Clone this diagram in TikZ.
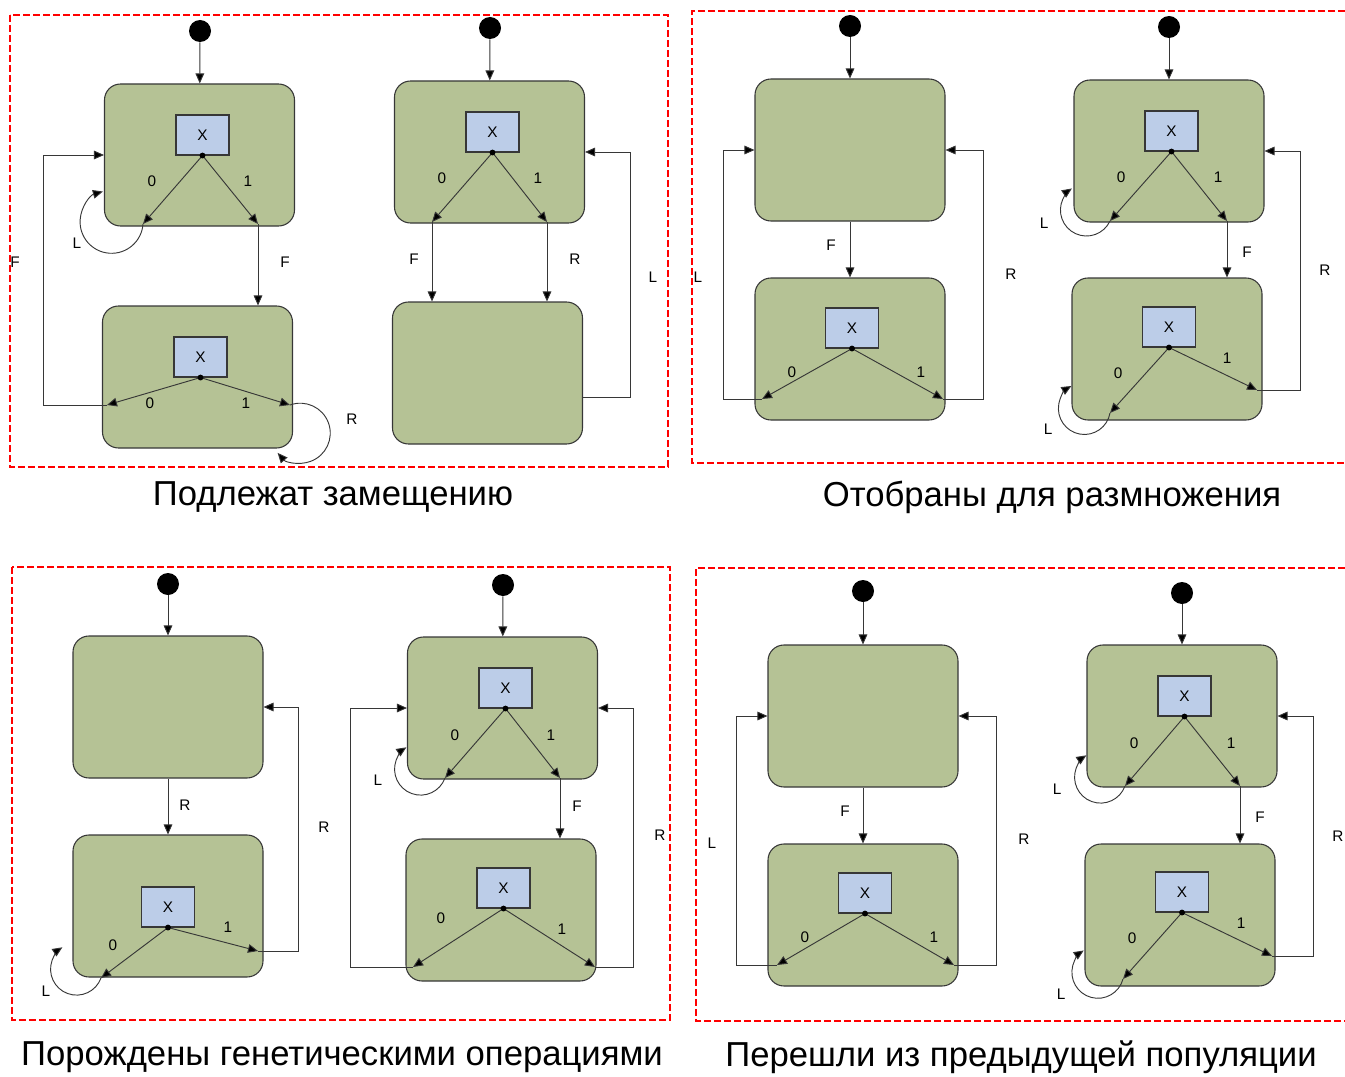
\documentclass[tikz,border=0pt]{standalone}
\usepackage{fontspec}
\setmainfont{Liberation Sans}
\usetikzlibrary{arrows.meta}
\definecolor{stategreen}{RGB}{181,194,149}
\definecolor{xblue}{RGB}{188,205,232}
\definecolor{lineg}{RGB}{55,55,55}
\begin{document}
\begin{tikzpicture}[x=0.75pt,y=-0.75pt,
  stbox/.style={draw=lineg,fill=stategreen,rounded corners=12pt,minimum width=142.5pt,minimum height=106.5pt,line width=0.8pt,inner sep=0pt},
  xbox/.style={draw=lineg,fill=xblue,minimum width=39.75pt,minimum height=30pt,line width=0.8pt,inner sep=0pt,font=\fontsize{11.5}{13}\selectfont},
  initdot/.style={circle,fill=black,minimum size=16.5pt,inner sep=0pt},
  tr/.style={draw=lineg,line width=0.7pt,-{Triangle[length=7.5pt,width=6.5pt,fill=black]}},
  lbl/.style={font=\fontsize{11.5}{13}\selectfont,inner sep=0pt},
  panel/.style={draw=red,line width=1pt,dash pattern=on 5pt off 2.5pt},
  caption/.style={font=\fontsize{26}{30}\selectfont,inner sep=0pt}]
\useasboundingbox (0,0) rectangle (1345,1077);
\draw[panel] (10,15) rectangle (668,467);
\draw[panel] (1345,11) -- (692,11) -- (692,463) -- (1345,463);
\draw[panel] (12,567) rectangle (670,1020);
\draw[panel] (1345,568) -- (696,568) -- (696,1021) -- (1345,1021);
\node[caption] (cap1) at (333,497) {Подлежат замещению};
\node[caption] (cap2) at (1052,497) {Отобраны для размножения};
\node[caption] (cap3) at (342,1057) {Порождены генетическими операциями};
\node[caption] (cap4) at (1021,1057) {Перешли из предыдущей популяции};

\node[initdot] (ia) at (200,31) {};
\node[stbox] (a1) at (199.5,155) {};
\node[stbox] (a2) at (197.5,377) {};
\node[xbox] (xa1) at (202.5,135) {X};
\node[xbox] (xa2) at (200.5,357) {X};
\coordinate (a1l) at (143,224);
\coordinate (a1r) at (258,224);
\coordinate (a2l) at (107,405);
\coordinate (a2r) at (290,405);
\draw[tr] (ia) -- (a1);
\draw[tr] (xa1.south) -- (a1l);
\draw[tr] (xa1.south) -- (a1r);
\draw[tr] (xa2.south) -- (a2l);
\draw[tr] (xa2.south) -- (a2r);
\draw[tr] (a1r) -- (a1r |- a2.north);
\draw[tr] (a2l) -- ++(-64,0) |- (a1.west);
\draw[tr] (a1l) arc[start angle=4,end angle=254,radius=31.5];
\draw[tr] (a2r) arc[start angle=-110,end angle=139,radius=30];
\fill[black] (xa1.south) circle (2.2pt);
\fill[black] (xa2.south) circle (2.2pt);
\node[lbl] (a1z) at (152,181) {0};
\node[lbl] (a1o) at (248,181) {1};
\node[lbl] (a2z) at (150,403) {0};
\node[lbl] (a2o) at (246,403) {1};
\node[lbl] (aL) at (77,243) {L};
\node[lbl] (aF) at (285,262) {F};
\node[lbl] (aFb) at (15,262) {F};
\node[lbl] (aR) at (352,419) {R};

\node[initdot] (ib) at (490,28) {};
\node[stbox] (b1) at (489.5,152) {};
\node[stbox] (b2) at (487.5,373) {};
\node[xbox] (xb1) at (492.5,132) {X};
\coordinate (b1l) at (432,222);
\coordinate (b1r) at (547,222);
\draw[tr] (ib) -- (b1);
\draw[tr] (xb1.south) -- (b1l);
\draw[tr] (xb1.south) -- (b1r);
\draw[tr] (b1l) -- (b1l |- b2.north);
\draw[tr] (b1r) -- (b1r |- b2.north);
\draw[tr] ([yshift=-18pt]b2.east) -- ++(47,0) |- (b1.east);
\fill[black] (xb1.south) circle (2.2pt);
\node[lbl] (b1z) at (442,178) {0};
\node[lbl] (b1o) at (538,178) {1};
\node[lbl] (bF) at (414,259) {F};
\node[lbl] (bR) at (575,259) {R};
\node[lbl] (bL) at (653,277) {L};

\node[initdot] (ic) at (850,26) {};
\node[stbox] (c1) at (850,150) {};
\node[stbox] (c2) at (850,349) {};
\node[xbox] (xc2) at (852,328) {X};
\coordinate (c2l) at (762,399);
\coordinate (c2r) at (943,399);
\draw[tr] (ic) -- (c1);
\draw[tr] (c1) -- (c2);
\draw[tr] (xc2.south) -- (c2l);
\draw[tr] (xc2.south) -- (c2r);
\draw[tr] (c2l) -- ++(-39,0) |- (c1.west);
\draw[tr] (c2r) -- ++(40,0) |- (c1.east);
\fill[black] (xc2.south) circle (2.2pt);
\node[lbl] (c2z) at (792,372) {0};
\node[lbl] (c2o) at (921,372) {1};
\node[lbl] (cF) at (831,245) {F};
\node[lbl] (cL) at (698,277) {L};
\node[lbl] (cR) at (1011,274) {R};

\node[initdot] (id) at (1169,27) {};
\node[stbox] (d1) at (1169,151) {};
\node[stbox] (d2) at (1167,349) {};
\node[xbox] (xd1) at (1171.5,131) {X};
\node[xbox] (xd2) at (1169,327) {X};
\coordinate (d1l) at (1110,221);
\coordinate (d1r) at (1227,221);
\coordinate (d2l) at (1110,413);
\coordinate (d2r) at (1257,390);
\draw[tr] (id) -- (d1);
\draw[tr] (xd1.south) -- (d1l);
\draw[tr] (xd1.south) -- (d1r);
\draw[tr] (xd2.south) -- (d2l);
\draw[tr] (xd2.south) -- (d2r);
\draw[tr] (d1r) -- (d1r |- d2.north);
\draw[tr] (d1l) arc[start angle=25,end angle=236,radius=26];
\draw[tr] (d2l) arc[start angle=10,end angle=240,radius=26];
\draw[tr] (d2r) -- ++(43,0) |- (d1.east);
\fill[black] (xd1.south) circle (2.2pt);
\fill[black] (xd2.south) circle (2.2pt);
\node[lbl] (d1z) at (1121,177) {0};
\node[lbl] (d1o) at (1218,177) {1};
\node[lbl] (d2z) at (1118,373) {0};
\node[lbl] (d2o) at (1227,358) {1};
\node[lbl] (dL1) at (1044,223) {L};
\node[lbl] (dF) at (1247,252) {F};
\node[lbl] (dL2) at (1048,429) {L};
\node[lbl] (dR) at (1325,270) {R};

\node[initdot] (ie) at (168,584) {};
\node[stbox] (e1) at (168,707) {};
\node[stbox] (e2) at (168,906) {};
\node[xbox] (xe2) at (168,907) {X};
\coordinate (e2l) at (101,978);
\coordinate (e2r) at (258,951);
\draw[tr] (ie) -- (e1);
\draw[tr] (e1) -- (e2);
\draw[tr] (xe2.south) -- (e2l);
\draw[tr] (xe2.south) -- (e2r);
\draw[tr] (e2l) arc[start angle=20,end angle=237,radius=26];
\draw[tr] (e2r) -- ++(40,0) |- (e1.east);
\fill[black] (xe2.south) circle (2.2pt);
\node[lbl] (e2z) at (113,945) {0};
\node[lbl] (e2o) at (228,927) {1};
\node[lbl] (eR1) at (185,805) {R};
\node[lbl] (eL) at (46,991) {L};
\node[lbl] (eR2) at (324,827) {R};

\node[initdot] (if) at (503,585) {};
\node[stbox] (f1) at (502.5,708) {};
\node[stbox] (f2) at (501,910) {};
\node[xbox] (xf1) at (505.5,688) {X};
\node[xbox] (xf2) at (503.5,888) {X};
\coordinate (f1l) at (445,778);
\coordinate (f1r) at (560,778);
\coordinate (f2l) at (413,967);
\coordinate (f2r) at (595,967);
\draw[tr] (if) -- (f1);
\draw[tr] (xf1.south) -- (f1l);
\draw[tr] (xf1.south) -- (f1r);
\draw[tr] (xf2.south) -- (f2l);
\draw[tr] (xf2.south) -- (f2r);
\draw[tr] (f1l) arc[start angle=20,end angle=237,radius=26];
\draw[tr] (f1r) -- (f1r |- f2.north);
\draw[tr] (f2l) -- ++(-63,0) |- (f1.west);
\draw[tr] (f2r) -- ++(38,0) |- (f1.east);
\fill[black] (xf1.south) circle (2.2pt);
\fill[black] (xf2.south) circle (2.2pt);
\node[lbl] (f1z) at (455,735) {0};
\node[lbl] (f1o) at (551,735) {1};
\node[lbl] (f2z) at (441,918) {0};
\node[lbl] (f2o) at (562,929) {1};
\node[lbl] (fL) at (378,780) {L};
\node[lbl] (fF) at (577,806) {F};
\node[lbl] (fR) at (660,835) {R};

\node[initdot] (ig) at (863,591) {};
\node[stbox] (g1) at (863,716) {};
\node[stbox] (g2) at (863,915) {};
\node[xbox] (xg2) at (865,893) {X};
\coordinate (g2l) at (777,965);
\coordinate (g2r) at (954,965);
\draw[tr] (ig) -- (g1);
\draw[tr] (g1) -- (g2);
\draw[tr] (xg2.south) -- (g2l);
\draw[tr] (xg2.south) -- (g2r);
\draw[tr] (g2l) -- ++(-41,0) |- (g1.west);
\draw[tr] (g2r) -- ++(42,0) |- (g1.east);
\fill[black] (xg2.south) circle (2.2pt);
\node[lbl] (g2z) at (805,937) {0};
\node[lbl] (g2o) at (934,937) {1};
\node[lbl] (gF) at (845,811) {F};
\node[lbl] (gL) at (712,843) {L};
\node[lbl] (gR) at (1024,839) {R};

\node[initdot] (ih) at (1182,593) {};
\node[stbox] (h1) at (1182,716) {};
\node[stbox] (h2) at (1180,915) {};
\node[xbox] (xh1) at (1184.5,696) {X};
\node[xbox] (xh2) at (1182,892) {X};
\coordinate (h1l) at (1125,786);
\coordinate (h1r) at (1240,786);
\coordinate (h2l) at (1123,979);
\coordinate (h2r) at (1272,956);
\draw[tr] (ih) -- (h1);
\draw[tr] (xh1.south) -- (h1l);
\draw[tr] (xh1.south) -- (h1r);
\draw[tr] (xh2.south) -- (h2l);
\draw[tr] (xh2.south) -- (h2r);
\draw[tr] (h1l) arc[start angle=20,end angle=237,radius=26];
\draw[tr] (h1r) -- (h1r |- h2.north);
\draw[tr] (h2l) arc[start angle=15,end angle=237,radius=26];
\draw[tr] (h2r) -- ++(41,0) |- (h1.east);
\fill[black] (xh1.south) circle (2.2pt);
\fill[black] (xh2.south) circle (2.2pt);
\node[lbl] (h1z) at (1134,743) {0};
\node[lbl] (h1o) at (1231,743) {1};
\node[lbl] (h2z) at (1132,938) {0};
\node[lbl] (h2o) at (1241,923) {1};
\node[lbl] (hL1) at (1057,789) {L};
\node[lbl] (hF) at (1260,817) {F};
\node[lbl] (hL2) at (1061,994) {L};
\node[lbl] (hR) at (1338,836) {R};
\end{tikzpicture}
\end{document}
